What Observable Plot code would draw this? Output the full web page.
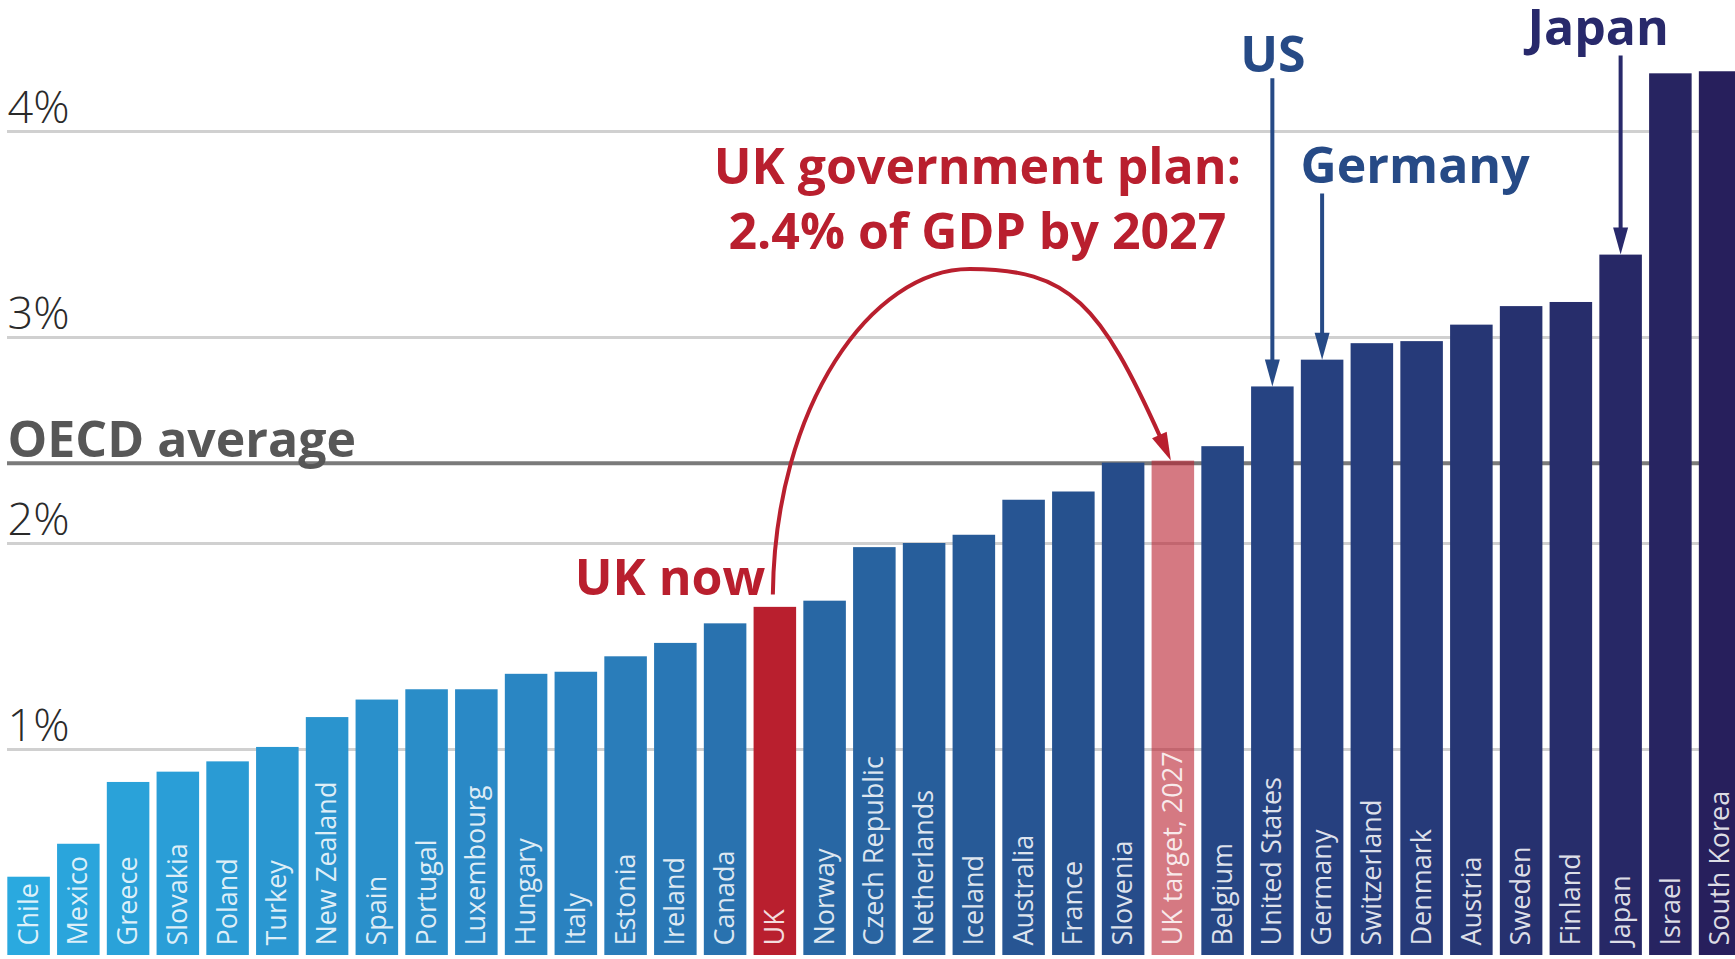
<!DOCTYPE html>
<html>
<head>
<meta charset="utf-8">
<script src="https://cdn.jsdelivr.net/npm/d3@7"></script>
<script src="https://cdn.jsdelivr.net/npm/@observablehq/plot@0.6"></script>
<style>
  html, body { margin: 0; padding: 0; background: #fff; overflow: hidden; }
  #chart { width: 1735px; height: 959px; overflow: hidden; }
</style>
</head>
<body>
<div id="chart"></div>
<script>
// ---- data ----
const countries = ["Chile","Mexico","Greece","Slovakia","Poland","Turkey","New Zealand","Spain","Portugal","Luxembourg","Hungary","Italy","Estonia","Ireland","Canada","UK","Norway","Czech Republic","Netherlands","Iceland","Australia","France","Slovenia","UK target, 2027","Belgium","United States","Germany","Switzerland","Denmark","Austria","Sweden","Finland","Japan","Israel","South Korea"];
const values = [0.38,0.54,0.84,0.89,0.94,1.01,1.155,1.24,1.29,1.29,1.365,1.375,1.45,1.515,1.61,1.69,1.72,1.98,2.00,2.04,2.21,2.25,2.39,2.40,2.47,2.76,2.89,2.97,2.98,3.06,3.15,3.17,3.40,4.28,4.29];
const oecdAverage = 2.39;
const gridTicks = [1, 2, 3, 4];
const tickLabels = ["1%", "2%", "3%", "4%"];
const ukNow = "UK";
const ukTarget = "UK target, 2027";
const planText = "UK government plan:\n2.4% of GDP by 2027";
const callouts = [
  {country: "United States", label: "US", labelAt: 4.29},
  {country: "Germany", label: "Germany", labelAt: 3.75},
  {country: "Japan", label: "Japan", labelAt: 4.42}
];

const data = countries.map((c, i) => ({country: c, value: values[i], rank: i}));
const isUK = d => d.country === ukNow || d.country === ukTarget;

const RED = "#b91f2e";
const calloutColor = {"United States": "#264a86", "Germany": "#264a86", "Japan": "#28296b"};

// custom annotation layer (arc + arrows) drawn through Plot's scales
function annotations(index, scales) {
  const x = scales.x, y = scales.y;
  const bw = x.bandwidth ? x.bandwidth() : 42;
  const cx = c => x(c) + bw / 2;
  const valueOf = c => values[countries.indexOf(c)];
  const g = d3.create("svg:g");

  // straight callout arrows
  const headL = 27, headW = 7.5;
  for (const c of callouts) {
    const xx = cx(c.country);
    const gap = c.label === "US" ? 7 : 11;
    const y0 = y(c.labelAt) + gap;
    const tip = y(valueOf(c.country));
    const col = calloutColor[c.country];
    g.append("line").attr("x1", xx).attr("x2", xx).attr("y1", y0).attr("y2", tip - headL + 2)
      .attr("stroke", col).attr("stroke-width", 4);
    g.append("path").attr("d", `M${xx},${tip}L${xx - headW},${tip - headL}L${xx + headW},${tip - headL}Z`)
      .attr("fill", col);
  }

  // red arc from UK now to UK target
  const S = [cx(ukNow) - 2, y(1.75)];
  const P = [cx("Iceland") - 4, y(3.33)];
  const E = [cx(ukTarget) - 2, y(valueOf(ukTarget))];
  const c1 = [S[0] + 2, S[1] - 0.58 * (S[1] - P[1])];
  const c2 = [P[0] - 0.5 * (P[0] - S[0]), P[1]];
  const c3 = [P[0] + 0.5 * (E[0] - P[0]), P[1]];
  const c4 = [E[0] - 0.3 * (E[0] - P[0]), E[1] - 0.7 * (E[1] - P[1])];
  let dx = E[0] - c4[0], dy = E[1] - c4[1];
  const len = Math.hypot(dx, dy); dx /= len; dy /= len;
  const hl = 28, hw = 8;
  const B = [E[0] - dx * (hl - 4), E[1] - dy * (hl - 4)];
  const c4s = [c4[0] - dx * (hl - 4), c4[1] - dy * (hl - 4)];
  g.append("path")
    .attr("d", `M${S}C${c1} ${c2} ${P}C${c3} ${c4s} ${B}`)
    .attr("fill", "none").attr("stroke", RED).attr("stroke-width", 4);
  const bx = E[0] - dx * hl, by = E[1] - dy * hl;
  g.append("path")
    .attr("d", `M${E}L${bx - dy * hw},${by + dx * hw}L${bx + dy * hw},${by - dx * hw}Z`)
    .attr("fill", RED);
  return g.node();
}

const chart = Plot.plot({
  width: 1735,
  height: 959,
  marginLeft: 7,
  marginRight: 0,
  marginTop: 0,
  marginBottom: 0,
  style: {fontFamily: "'Open Sans', sans-serif", background: "white", overflow: "hidden"},
  x: {domain: countries, range: [0, 1748.7], paddingInner: 0.145, paddingOuter: 0.147, round: false, axis: null},
  y: {domain: [0, 4], range: [955, 131], axis: null},
  color: {type: "linear", domain: [0, 11, 16, 22, 28, 34],
          range: ["#2aa9df", "#2a82c0", "#2867a4", "#264c8a", "#263a79", "#271f5c"], interpolate: "rgb"},
  marks: [
    Plot.ruleY(gridTicks, {stroke: "#d0d0d0", strokeWidth: 3}),
    Plot.text(gridTicks, {y: d => d, text: (d, i) => tickLabels[i], frameAnchor: "left", textAnchor: "start",
      lineAnchor: "bottom", dy: -9, fontSize: 45, fontWeight: 300, fill: "#2a2a2a"}),
    Plot.ruleY([oecdAverage], {stroke: "#7a7a7a", strokeWidth: 4}),
    Plot.text([oecdAverage], {y: d => d, text: () => "OECD average", frameAnchor: "left", textAnchor: "start",
      lineAnchor: "bottom", dy: -6, fontSize: 50, fontWeight: 700, fill: "#575757"}),
    Plot.barY(data, {filter: d => !isUK(d), x: "country", y: "value", fill: "rank"}),
    Plot.barY(data, {filter: d => d.country === ukNow, x: "country", y: "value", fill: RED}),
    Plot.barY(data, {filter: d => d.country === ukTarget, x: "country", y: "value", fill: RED, fillOpacity: 0.6}),
    Plot.text(data, {x: "country", y: 0, text: "country", rotate: -90, textAnchor: "start", lineAnchor: "middle",
      dy: -10, fontSize: 27, fill: "white", fillOpacity: 0.85}),
    Plot.text([ukNow], {x: d => d, y: () => 1.752, text: () => "UK now", textAnchor: "end", lineAnchor: "bottom",
      dx: -10, fontSize: 50, fontWeight: 700, fill: RED}),
    Plot.text([planText], {x: () => "Iceland", y: () => 3.432, text: d => d, textAnchor: "middle", lineAnchor: "bottom",
      lineHeight: 1.3, dx: 3, fontSize: 50, fontWeight: 700, fill: RED}),
    Plot.text(callouts, {x: "country", y: "labelAt", text: "label", textAnchor: "middle", lineAnchor: "bottom",
      fontSize: 50, fontWeight: 700, fill: c => calloutColor[c.country], filter: c => c.label === "US"}),
    Plot.text(callouts, {x: "country", y: "labelAt", text: "label", textAnchor: "start", lineAnchor: "bottom",
      dx: -22, fontSize: 50, fontWeight: 700, fill: c => calloutColor[c.country], filter: c => c.label === "Germany"}),
    Plot.text(callouts, {x: "country", y: "labelAt", text: "label", textAnchor: "middle", lineAnchor: "bottom",
      dx: -23, fontSize: 50, fontWeight: 700, fill: c => calloutColor[c.country], filter: c => c.label === "Japan"}),
    annotations
  ]
});
document.getElementById("chart").appendChild(chart);
</script>
</body>
</html>
